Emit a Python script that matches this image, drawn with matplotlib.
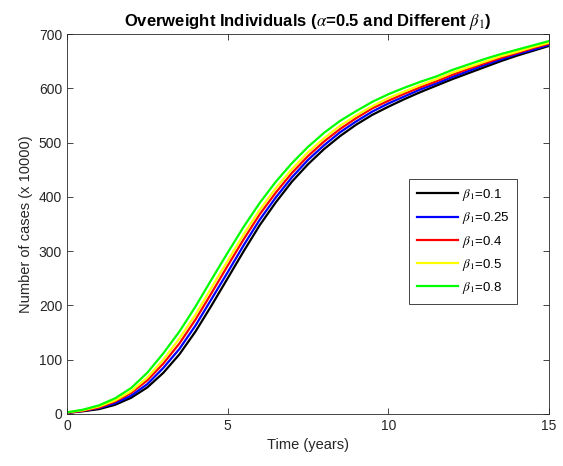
import numpy as np
from matplotlib import pyplot as plt

plt.rcParams['font.family'] = ['Liberation Sans', 'DejaVu Sans']
plt.rcParams['mathtext.fontset'] = 'stix'

# time in years, half-year steps
years = np.arange(0, 15.5, 0.5)

# number of cases (x 10000) for each beta_1
beta_01 = [2, 5, 9, 17, 30, 49, 76, 110, 152, 200, 250, 300, 348, 390, 428, 460,
           488, 512, 533, 551, 566, 580, 593, 605, 617, 628, 639, 650, 660, 669, 678]
beta_025 = [2, 6, 11, 20, 34, 55, 85, 120, 163, 212, 261, 311, 358, 399, 436, 468,
            495, 519, 539, 557, 572, 585, 598, 609, 621, 632, 643, 653, 663, 671, 680]
beta_04 = [2, 6, 12, 23, 39, 62, 93, 130, 174, 223, 273, 322, 368, 408, 444, 475,
           502, 525, 545, 563, 577, 590, 602, 613, 625, 636, 646, 656, 665, 674, 682]
beta_05 = [3, 7, 14, 25, 42, 67, 100, 139, 183, 233, 282, 331, 376, 416, 451, 482,
           508, 531, 550, 567, 582, 594, 606, 617, 629, 639, 649, 659, 667, 676, 684]
beta_08 = [3, 8, 16, 29, 48, 76, 112, 152, 198, 248, 297, 345, 389, 428, 462, 492,
           518, 540, 558, 575, 589, 601, 612, 622, 634, 644, 654, 663, 671, 679, 687]

labels = ['$\\beta_1$=0.1', '$\\beta_1$=0.25', '$\\beta_1$=0.4', '$\\beta_1$=0.5', '$\\beta_1$=0.8']
colors = ['#000000', '#0000ff', '#ff0000', '#ffff00', '#00ff00']

fig = plt.figure(figsize=(5.63, 4.66), dpi=100)
ax = fig.add_axes([0.119, 0.1116, 0.856, 0.8154])

for ys, lab, c in zip([beta_01, beta_025, beta_04, beta_05, beta_08], labels, colors):
    ax.plot(years, ys, color=c, linewidth=1.6, label=lab)

ax.set_xlim(0, 15)
ax.set_ylim(0, 700)
ax.set_xticks([0, 5, 10, 15])
ax.set_yticks(range(0, 701, 100))
ax.tick_params(direction='in', top=True, right=True, labelsize=10, colors='#262626', length=4, width=0.6)
for s in ax.spines.values():
    s.set_color('#262626')
    s.set_linewidth(0.6)

ax.set_xlabel('Time (years)', fontsize=10.5, color='#262626')
ax.set_ylabel('Number of cases (x 10000)', fontsize=10.5, color='#262626')
ax.set_title('Overweight Individuals ($\\alpha$=0.5 and Different $\\beta_1$)',
             fontsize=12, fontweight='bold')

leg = ax.legend(loc='upper left', bbox_to_anchor=(0.71, 0.618), fontsize=9.5,
                handlelength=3.1, handletextpad=0.3, labelspacing=0.55,
                fancybox=False, framealpha=1, borderpad=0.6, borderaxespad=0)
leg.get_frame().set_edgecolor('#262626')
leg.get_frame().set_linewidth(0.6)

plt.savefig('out.png', dpi=100)
